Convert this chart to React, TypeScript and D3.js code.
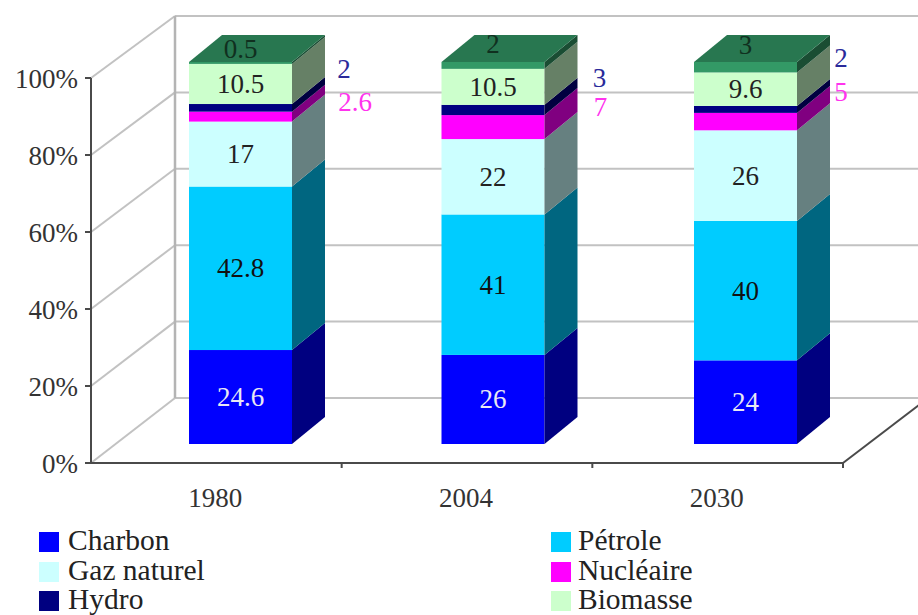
import React from "react";
import * as d3 from "d3";

// Energy mix per year, shown as shares of each year's total.
const years = ["1980", "2004", "2030"];
const seriesKeys = ["charbon", "petrole", "gaz", "nucleaire", "hydro", "biomasse", "autre"];
const charbon = [24.6, 26, 24];
const petrole = [42.8, 41, 40];
const gaz = [17, 22, 26];
const nucleaire = [2.6, 7, 5];
const hydro = [2, 3, 2];
const biomasse = [10.5, 10.5, 9.6];
const autre = [0.5, 2, 3];
const seriesValues = [charbon, petrole, gaz, nucleaire, hydro, biomasse, autre];
const seriesColors = ["#0000ff", "#00ccff", "#ccffff", "#ff00ff", "#000080", "#ccffcc", "#339966"];
const labelColors = ["#e8e8f4", "#111", "#222", "#ff33ee", "#2a2a9a", "#222", "#10301f"];
const legendNames = ["Charbon", "Pétrole", "Gaz naturel", "Nucléaire", "Hydro", "Biomasse"];
const yTicks = [0, 0.2, 0.4, 0.6, 0.8, 1];

// Labels that sit off their segment: lift and right shift in px for each year.
const hydroLabelLift = [39, 32, 51];
const hydroLabelShift = [19, 22, 11];
const nucleaireLabelLift = [15, 20, 30];
const nucleaireLabelShift = [30, 23, 11];
const topLabelLift = [14, 21, 22];

const FONT = "'Liberation Serif', 'Times New Roman', serif";
const W = 918;
const H = 615;

// Plot frame and the oblique depth of walls and columns.
const axisLeft = 91;
const axisRight = 843;
const axisBottom = 463;
const axisTop = 78;
const wallDx = 84;
const wallDy = -64;
const barDx = 33;
const barDy = -27;
const barWidth = 103;

const shade = (c: string, k: number) => {
  const r = d3.rgb(c);
  return d3.rgb(r.r * k, r.g * k, r.b * k).formatHex();
};

export default function App() {
  const rows = years.map((y, i) => {
    const row: Record<string, number | string> = { year: y };
    seriesKeys.forEach((k, s) => (row[k] = seriesValues[s][i]));
    return row;
  });
  const stacked = d3.stack<any>().keys(seriesKeys).offset(d3.stackOffsetExpand)(rows);

  const yFront = d3.scaleLinear().domain([0, 1]).range([axisBottom, axisTop]);
  const yBack = d3.scaleLinear().domain([0, 1]).range([398, 16]);
  const yBar = d3.scaleLinear().domain([0, 1]).range([444, 62]);
  const xAxis = d3.scaleBand().domain(years).range([axisLeft, axisRight]);
  const xBar = d3.scalePoint().domain(years).range([240.5, 745.5]);

  const poly = (pts: [number, number][]) => pts.map((p) => p.join(",")).join(" ");
  const textStyle = { fontFamily: FONT };

  return (
    <svg
      width={W}
      height={H}
      viewBox={`0 0 ${W} ${H}`}
      style={{ position: "absolute", left: 0, top: 0, background: "#fff" }}
    >
      {/* back wall and side wall */}
      <g stroke="#c2c2c2" strokeWidth={2} fill="none">
        {yTicks.map((t) => (
          <g key={t}>
            <line x1={axisLeft} y1={yFront(t)} x2={axisLeft + wallDx} y2={yBack(t)} />
            <line x1={axisLeft + wallDx} y1={yBack(t)} x2={W} y2={yBack(t)} />
          </g>
        ))}
        <line x1={axisLeft + wallDx} y1={yBack(0)} x2={axisLeft + wallDx} y2={yBack(1)} strokeWidth={2.5} stroke="#b4b4b4" />
      </g>

      {/* axes */}
      <g stroke="#4a4a4a" strokeWidth={2} fill="none">
        <line x1={axisLeft} y1={axisTop} x2={axisLeft} y2={axisBottom} />
        <line x1={axisLeft - 5} y1={axisBottom} x2={axisRight} y2={axisBottom} />
        {yTicks.map((t) => (
          <line key={t} x1={axisLeft - 6} y1={yFront(t)} x2={axisLeft} y2={yFront(t)} />
        ))}
        {[...years.map((y) => xAxis(y)!), axisRight].map((x, i) =>
          i === 0 ? null : <line key={i} x1={x} y1={axisBottom} x2={x} y2={axisBottom + 5} />
        )}
        <line x1={axisRight} y1={axisBottom} x2={axisRight + wallDx} y2={axisBottom + wallDy} />
      </g>

      {/* y tick labels */}
      {yTicks.map((t) => (
        <text
          key={t}
          x={78}
          y={yFront(t) + 10}
          textAnchor="end"
          fontSize={27}
          fill="#333"
          style={textStyle}
        >
          {`${Math.round(t * 100)}%`}
        </text>
      ))}

      {/* x tick labels */}
      {years.map((y) => (
        <text
          key={y}
          x={xAxis(y)! + xAxis.bandwidth() / 2 - 1}
          y={507}
          textAnchor="middle"
          fontSize={27}
          fill="#333"
          style={textStyle}
        >
          {y}
        </text>
      ))}

      {/* stacked columns, lowest series first */}
      {years.map((y, i) => {
        const x0 = xBar(y)! - barWidth / 2;
        const x1 = x0 + barWidth;
        return (
          <g key={y}>
            {stacked.map((layer, s) => {
              const top = yBar(layer[i][1]);
              const bottom = yBar(layer[i][0]);
              const color = seriesColors[s];
              return (
                <g key={layer.key}>
                  <rect x={x0} y={top} width={barWidth} height={bottom - top} fill={color} />
                  <polygon
                    points={poly([
                      [x1, bottom],
                      [x1 + barDx, bottom + barDy],
                      [x1 + barDx, top + barDy],
                      [x1, top],
                    ])}
                    fill={shade(color, 0.5)}
                  />
                  {s === stacked.length - 1 && (
                    <polygon
                      points={poly([
                        [x0, top],
                        [x0 + barDx, top + barDy],
                        [x1 + barDx, top + barDy],
                        [x1, top],
                      ])}
                      fill={shade(color, 0.78)}
                    />
                  )}
                </g>
              );
            })}
          </g>
        );
      })}

      {/* value labels */}
      {years.map((y, i) => {
        const cx = xBar(y)!;
        const sideX = cx + barWidth / 2 + barDx;
        return stacked.map((layer, s) => {
          const mid = yBar((layer[i][0] + layer[i][1]) / 2);
          let px = cx;
          let py = mid;
          const key = layer.key;
          if (key === "hydro") {
            px = sideX + hydroLabelShift[i];
            py = mid - hydroLabelLift[i];
          } else if (key === "nucleaire") {
            px = sideX + nucleaireLabelShift[i];
            py = mid - nucleaireLabelLift[i];
          } else if (key === "autre") {
            py = mid - topLabelLift[i];
          }
          return (
            <text
              key={`${y}-${key}`}
              x={px}
              y={py + 9}
              textAnchor="middle"
              fontSize={27}
              fill={labelColors[s]}
              style={textStyle}
            >
              {seriesValues[s][i]}
            </text>
          );
        });
      })}

      {/* legend, two columns across three rows */}
      {legendNames.map((name, s) => {
        const col = s % 2;
        const row = Math.floor(s / 2);
        const lx = col === 0 ? 39 : 551;
        const ly = [542, 572, 601][row];
        return (
          <g key={name}>
            <rect x={lx} y={ly - 10} width={20} height={20} fill={seriesColors[s]} />
            <text
              x={lx + (col === 0 ? 29 : 27)}
              y={ly + 8}
              fontSize={29.5}
              fill="#222"
              style={textStyle}
            >
              {name}
            </text>
          </g>
        );
      })}
    </svg>
  );
}
